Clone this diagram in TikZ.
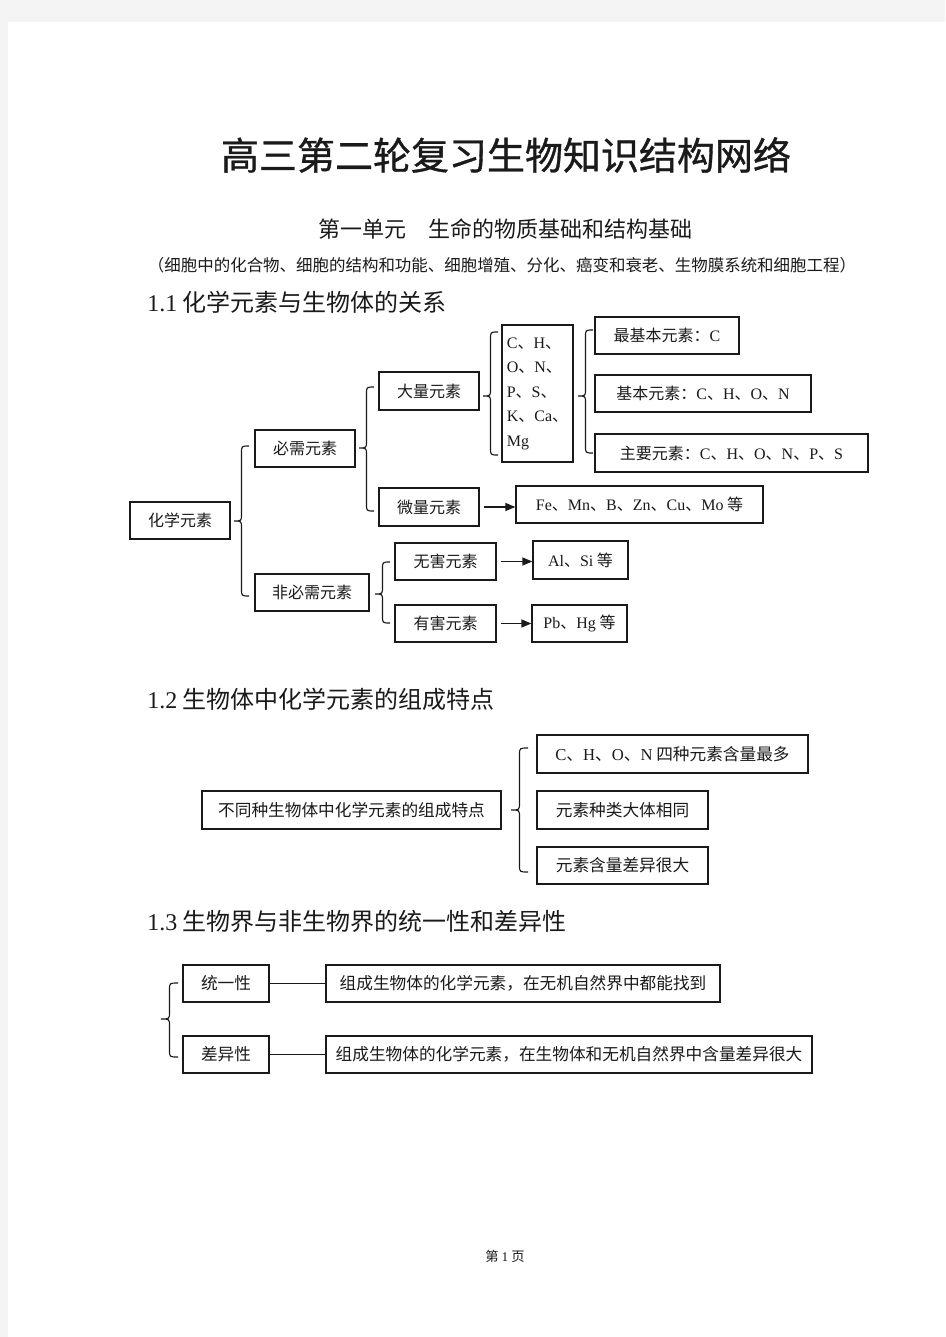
\documentclass[tikz,border=0pt]{standalone}
\usepackage{fontspec}
\setmainfont{Liberation Serif}
\newfontfamily\cjk{Noto Sans CJK SC}
\newfontfamily\cjkt[FakeBold=0.9]{Noto Sans CJK SC}
\newfontfamily\enf{Liberation Serif}
\usetikzlibrary{arrows.meta}
\newcommand\en[1]{{\enf #1}}
\definecolor{ink}{HTML}{1A1A1A}
\definecolor{pagebg}{HTML}{F4F4F4}
\tikzset{
  box/.style={draw=ink, line width=0.95pt, inner sep=0pt, text=ink,
    font=\cjk\fontsize{12}{14}\selectfont},
  boxb/.style={box, font=\cjk\fontsize{12.5}{14}\selectfont},
  boxc/.style={box, font=\cjk\fontsize{12.5}{14}\selectfont},
  brc/.style={draw=ink, line width=0.85pt},
  arr/.style={draw=ink, line width=0.95pt, -{Triangle[length=7.5pt,width=6pt]}},
  lnk/.style={draw=ink, line width=0.95pt},
  heading/.style={anchor=west, inner sep=0pt, text=ink, font=\cjk\fontsize{18}{20}\selectfont}
}
% box node from pixel corners: [style]{name}{x1}{y1}{x2}{y2} then {text};
\newcommand\bnode[6][box]{%
  \pgfmathsetmacro\cx{(#3+#5)/2}\pgfmathsetmacro\cy{(#4+#6)/2}%
  \pgfmathsetmacro\ww{(#5-#3)*0.75}\pgfmathsetmacro\hh{(#6-#4)*0.75}%
  \node[#1, minimum width=\ww pt, minimum height=\hh pt] (#2) at (\cx,\cy)}
% left curly brace: tip x, end x, top y, tip y, bottom y
\newcommand\lbr[5]{%
  \pgfmathsetmacro\xm{(#1+#2)/2}%
  \draw[brc] (#2,#3) .. controls (\xm,#3) .. (\xm,#3+7) -- (\xm,#4-7)
    .. controls (\xm,#4) .. (#1,#4) .. controls (\xm,#4) .. (\xm,#4+7)
    -- (\xm,#5-7) .. controls (\xm,#5) .. (#2,#5);}
\begin{document}
\begin{tikzpicture}[x=0.75pt,y=-0.75pt]
\useasboundingbox (0,0) rectangle (945,1337);
\fill[pagebg] (0,0) rectangle (945,1337);
\fill[white] (8,22) rectangle (945,1337);

% titles
\node[text=ink, font=\cjkt\fontsize{28.5}{30}\selectfont, inner sep=0pt] (title) at (506,155) {高三第二轮复习生物知识结构网络};
\node[text=ink, font=\cjk\fontsize{16.5}{18}\selectfont, inner sep=0pt] (unit) at (505,229) {第一单元\hspace{16.5pt}生命的物质基础和结构基础};
\node[text=ink, font=\cjk\fontsize{12.35}{14}\selectfont, inner sep=0pt] (scope) at (502,265) {（细胞中的化合物、细胞的结构和功能、细胞增殖、分化、癌变和衰老、生物膜系统和细胞工程）};

\node[heading] (h1) at (147,302) {\en{1.1} 化学元素与生物体的关系};
\node[heading] (h2) at (147,699) {\en{1.2} 生物体中化学元素的组成特点};
\node[heading] (h3) at (147,921) {\en{1.3} 生物界与非生物界的统一性和差异性};

% 1.1
\bnode{hx}{130}{502}{230}{539} {化学元素};
\bnode{bx}{255}{430}{355}{467} {必需元素};
\bnode{fb}{255}{574}{369}{611} {非必需元素};
\bnode{dl}{379}{372}{479}{410} {大量元素};
\bnode{wl}{379}{488}{479}{526} {微量元素};
\bnode{wh}{395}{543}{496}{580} {无害元素};
\bnode{yh}{395}{605}{496}{642} {有害元素};
\bnode{al}{533}{541}{628}{579} {\en{Al}、\en{Si} 等};
\bnode{pb}{532}{605}{627}{642} {\en{Pb}、\en{Hg} 等};
\bnode[box, align=left, font=\cjk\fontsize{12}{18.4}\selectfont]{ch}{502}{325}{573}{462}
  {\en{C}、\en{H}、\\\en{O}、\en{N}、\\\en{P}、\en{S}、\\\en{K}、\en{Ca}、\\\en{Mg}};
\bnode{zj}{595}{317}{739}{354} {最基本元素：\en{C}};
\bnode{jb}{595}{375}{811}{412} {基本元素：\en{C}、\en{H}、\en{O}、\en{N}};
\bnode{zy}{595}{434}{868}{472} {主要元素：\en{C}、\en{H}、\en{O}、\en{N}、\en{P}、\en{S}};
\bnode{fe}{516}{486}{763}{523} {\en{Fe}、\en{Mn}、\en{B}、\en{Zn}、\en{Cu}、\en{Mo} 等};

\lbr{234}{249}{446}{521}{596}
\lbr{359}{374}{387}{448}{511}
\lbr{375}{390}{562}{594}{623}
\lbr{483}{498}{332}{396}{455}
\lbr{578}{593}{330}{396}{453}

\draw[arr, shorten <=3pt] (wl.east) -- (wl.east -| fe.west);
\draw[arr, shorten <=3pt] (wh.east) -- (wh.east -| al.west);
\draw[arr, shorten <=3pt] (yh.east) -- (yh.east -| pb.west);

% 1.2
\bnode[boxb]{bt}{202}{791}{501}{829} {\makebox[200pt][s]{不\hfil 同\hfil 种\hfil 生\hfil 物\hfil 体\hfil 中\hfil 化\hfil 学\hfil 元\hfil 素\hfil 的\hfil 组\hfil 成\hfil 特\hfil 点}};
\bnode[boxb]{a1}{537}{735}{808}{773} {\en{C}、\en{H}、\en{O}、\en{N} 四种元素含量最多};
\bnode[boxb]{a2}{537}{791}{708}{829} {元素种类大体相同};
\bnode[boxb]{a3}{537}{847}{708}{884} {元素含量差异很大};
\lbr{511}{528}{748}{810}{872}

% 1.3
\bnode[boxc]{ty}{183}{965}{269}{1002} {统一性};
\bnode[boxc]{cy}{183}{1036}{269}{1073} {差异性};
\bnode[boxc]{l1}{326}{965}{720}{1002} {组成生物体的化学元素，在无机自然界中都能找到};
\bnode[boxc]{l2}{326}{1036}{812}{1073} {组成生物体的化学元素，在生物体和无机自然界中含量差异很大};
\lbr{161}{178}{983}{1019}{1057}
\draw[lnk] (ty.east) -- (ty.east -| l1.west);
\draw[lnk] (cy.east) -- (cy.east -| l2.west);

% footer
\node[text=ink, font=\cjk\fontsize{10}{12}\selectfont, inner sep=0pt] (foot) at (505,1256) {第 \en{1} 页};
\end{tikzpicture}
\end{document}
